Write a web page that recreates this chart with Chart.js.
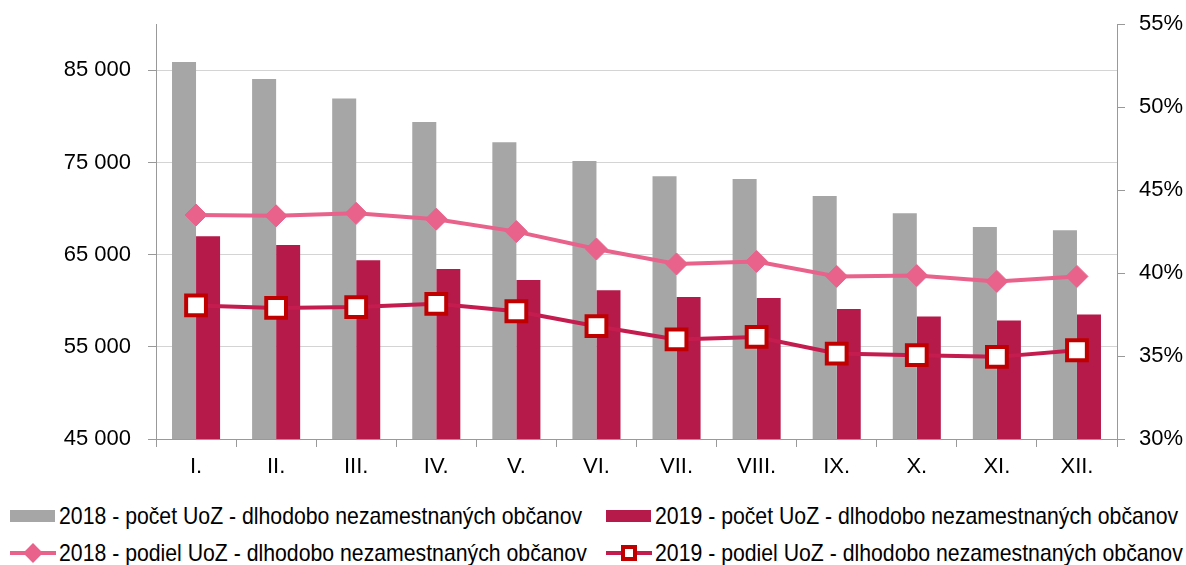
<!DOCTYPE html>
<html>
<head>
<meta charset="utf-8">
<script src="https://cdn.jsdelivr.net/npm/chart.js@4/dist/chart.umd.min.js"></script>
<style>
  html, body { margin: 0; padding: 0; background: #fff; }
  #wrap { position: relative; width: 1186px; height: 565px; overflow: hidden; font-family: "Liberation Sans", Arial, sans-serif; }
  #c { position: absolute; left: 0; top: -6px; }
  .item { position: absolute; height: 30px; display: flex; align-items: center; color: #000; white-space: nowrap; }
  .item span { display: inline-block; font-size: 24px; transform: scaleX(0.885); transform-origin: left center; }
  .sym { position: relative; width: 46px; height: 30px; margin-right: 3px; }
</style>
</head>
<body>
<div id="wrap">
  <canvas id="c" width="1186" height="496"></canvas>
  <div id="legend"></div>
</div>
<script>
const months = ['I.', 'II.', 'III.', 'IV.', 'V.', 'VI.', 'VII.', 'VIII.', 'IX.', 'X.', 'XI.', 'XII.'];
const count2018 = [85900, 84050, 81950, 79400, 77200, 75150, 73500, 73200, 71350, 69500, 68000, 67650];
const count2019 = [67000, 66050, 64400, 63450, 62250, 61150, 60400, 60300, 59100, 58300, 57850, 58500];
const share2018 = [43.5, 43.45, 43.6, 43.25, 42.5, 41.45, 40.55, 40.7, 39.8, 39.85, 39.5, 39.8];
const share2019 = [38.05, 37.9, 37.95, 38.15, 37.7, 36.8, 36.0, 36.15, 35.15, 35.05, 34.95, 35.35];
const leftTicks = [45000, 55000, 65000, 75000, 85000];
const rightTicks = [30, 35, 40, 45, 50, 55];

const labels = [
  '2018 - počet UoZ - dlhodobo nezamestnaných občanov',
  '2019 - počet UoZ - dlhodobo nezamestnaných občanov',
  '2018 - podiel UoZ - dlhodobo nezamestnaných občanov',
  '2019 - podiel UoZ - dlhodobo nezamestnaných občanov'
];

const FONT = '"Liberation Sans", Arial, sans-serif';
const grey = '#a6a6a6';
const crimson = '#b51a4a';
const pink = '#e8628b';
const line19 = '#c41c4f';
const red = '#c00000';

function thousands(v) {
  return String(v).replace(/\B(?=(\d{3})+(?!\d))/g, ' ');
}

new Chart(document.getElementById('c'), {
  data: {
    labels: months,
    datasets: [
      { type: 'line', label: labels[2], data: share2018, yAxisID: 'y1', order: 0,
        borderColor: pink, borderWidth: 4, pointStyle: 'rectRot', pointRadius: 11,
        pointBackgroundColor: pink, pointBorderColor: pink, pointBorderWidth: 1, tension: 0 },
      { type: 'line', label: labels[3], data: share2019, yAxisID: 'y1', order: 0,
        borderColor: line19, borderWidth: 4, pointStyle: 'rect', pointRadius: 14,
        pointBackgroundColor: '#fff', pointBorderColor: red, pointBorderWidth: 4, tension: 0 },
      { type: 'bar', label: labels[0], data: count2018, yAxisID: 'y', order: 1,
        backgroundColor: grey, barPercentage: 1, categoryPercentage: 0.6 },
      { type: 'bar', label: labels[1], data: count2019, yAxisID: 'y', order: 1,
        backgroundColor: crimson, barPercentage: 1, categoryPercentage: 0.6 }
    ]
  },
  options: {
    responsive: false,
    animation: false,
    layout: { padding: { top: 10, left: 0, right: 0, bottom: 0 } },
    plugins: { legend: { display: false }, tooltip: { enabled: false } },
    scales: {
      x: {
        offset: true,
        grid: { offset: true, drawOnChartArea: false, tickLength: 8, tickColor: '#999' },
        border: { color: '#999' },
        ticks: { color: '#000', padding: 7, font: { family: FONT, size: 22 } },
        afterFit: s => { s.height = 51; }
      },
      y: {
        position: 'left',
        min: 45000, max: 90000,
        afterBuildTicks: s => { s.ticks = leftTicks.map(v => ({ value: v })); },
        grid: { color: '#d4d4d4', tickLength: 8, tickColor: '#999' },
        border: { color: '#999' },
        ticks: { color: '#000', padding: 17, font: { family: FONT, size: 22 }, callback: v => thousands(v) },
        afterFit: s => { s.width = 156; }
      },
      y1: {
        position: 'right',
        min: 30, max: 55,
        afterBuildTicks: s => { s.ticks = rightTicks.map(v => ({ value: v })); },
        grid: { drawOnChartArea: false, tickLength: 8, tickColor: '#999' },
        border: { color: '#999' },
        ticks: { color: '#000', padding: 14, font: { family: FONT, size: 22 }, callback: v => v + '%' },
        afterFit: s => { s.width = 69; }
      }
    }
  }
});

// legend in two columns, as in the original
const legendItems = [
  { text: labels[0], x: 10, y: 501, kind: 'box', color: grey },
  { text: labels[1], x: 606, y: 501, kind: 'box', color: crimson },
  { text: labels[2], x: 10, y: 538, kind: 'diamond', color: pink },
  { text: labels[3], x: 606, y: 538, kind: 'square', color: line19 }
];
const legend = document.getElementById('legend');
legendItems.forEach(it => {
  const el = document.createElement('div');
  el.className = 'item';
  el.style.left = it.x + 'px';
  el.style.top = it.y + 'px';
  let sym = '';
  if (it.kind === 'box') {
    sym = `<div class="sym"><div style="position:absolute;left:0;top:9px;width:45px;height:12px;background:${it.color}"></div></div>`;
  } else if (it.kind === 'diamond') {
    sym = `<div class="sym"><div style="position:absolute;left:0;top:13px;width:46px;height:4px;background:${it.color}"></div>` +
          `<div style="position:absolute;left:16px;top:8px;width:14px;height:14px;background:${it.color};transform:rotate(45deg)"></div></div>`;
  } else {
    sym = `<div class="sym"><div style="position:absolute;left:0;top:13px;width:46px;height:4px;background:${it.color}"></div>` +
          `<div style="position:absolute;left:15px;top:7px;width:8px;height:8px;border:4px solid ${red};background:#fff"></div></div>`;
  }
  el.innerHTML = sym + '<span>' + it.text + '</span>';
  legend.appendChild(el);
});
</script>
</body>
</html>
